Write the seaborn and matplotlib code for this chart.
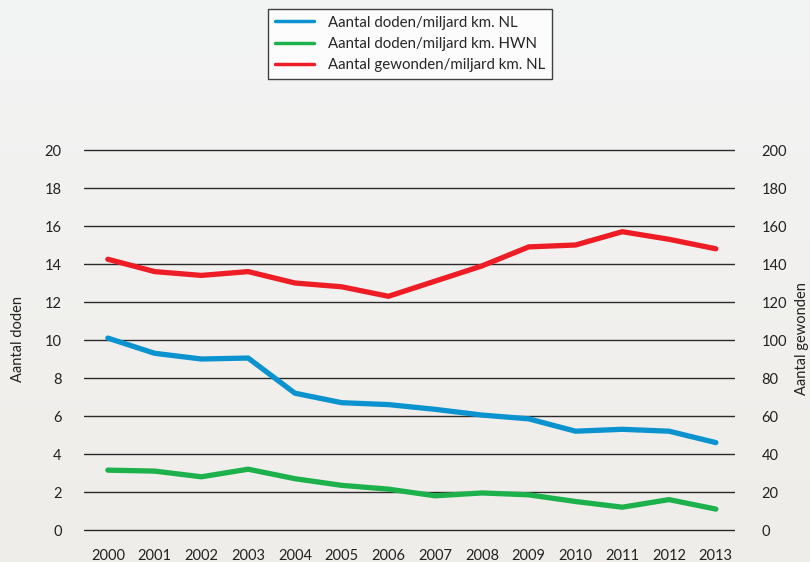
import numpy as np
import pandas as pd
import matplotlib

matplotlib.use("Agg")
import matplotlib.pyplot as plt  # noqa: E402
import seaborn as sns  # noqa: E402

years = list(range(2000, 2014))
doden_nl = [10.1, 9.3, 9.0, 9.05, 7.2, 6.7, 6.6, 6.35, 6.05, 5.85, 5.2, 5.3, 5.2, 4.6]
doden_hwn = [3.15, 3.1, 2.8, 3.2, 2.7, 2.35, 2.15, 1.8, 1.95, 1.85, 1.5, 1.2, 1.6, 1.1]
gewonden_nl = [142.5, 136, 134, 136, 130, 128, 123, 131, 139, 149, 150, 157, 153, 148]

labels = [
    "Aantal doden/miljard km. NL",
    "Aantal doden/miljard km. HWN",
    "Aantal gewonden/miljard km. NL",
]
colors = ["#0a93cf", "#1db14b", "#ee1c25"]

sns.set_style("white")
plt.rcParams["font.family"] = ["Lato", "DejaVu Sans"]

fig = plt.figure(figsize=(8.1, 5.62), dpi=100)

# achtergrond met licht verloop
bg = fig.add_axes([0, 0, 1, 1], zorder=-10)
grad = np.linspace(0, 1, 256).reshape(-1, 1)
cmap = matplotlib.colors.LinearSegmentedColormap.from_list("bg", ["#f3f4f4", "#efede9"])
bg.imshow(grad, aspect="auto", cmap=cmap, extent=[0, 1, 0, 1], origin="upper")
bg.axis("off")

# 19 px per eenheid, 0 op y=530 en 20 op y=150 (plus kleine marge voor gridlijnen)
ax = fig.add_axes([84 / 810, 30.1 / 562, 651 / 810, 383.8 / 562])
ax.patch.set_alpha(0)
ax2 = ax.twinx()

df = pd.DataFrame({"jaar": years, "nl": doden_nl, "hwn": doden_hwn, "gew": gewonden_nl})

sns.lineplot(data=df, x="jaar", y="nl", ax=ax, color=colors[0], lw=3.8,
             legend=False, solid_capstyle="round", zorder=3)
sns.lineplot(data=df, x="jaar", y="hwn", ax=ax, color=colors[1], lw=3.8,
             legend=False, solid_capstyle="round", zorder=3)
sns.lineplot(data=df, x="jaar", y="gew", ax=ax2, color=colors[2], lw=3.8,
             legend=False, solid_capstyle="round", zorder=3)

ax.set_xlim(1999.49, 2013.41)
ax.set_ylim(-0.1, 20.1)
ax2.set_ylim(-1, 201)
ax.set_yticks(range(0, 21, 2))
ax2.set_yticks(range(0, 201, 20))
ax.set_xticks(years)
ax.set_xticklabels([str(y) for y in years])

ax.grid(axis="y", color="#2a2a2a", lw=1.0)
ax.grid(axis="x", visible=False)
for a in (ax, ax2):
    for s in a.spines.values():
        s.set_visible(False)
ax.tick_params(axis="y", length=0, pad=16, labelsize=10.5, colors="#222222")
ax.tick_params(axis="x", length=0, pad=12, labelsize=10.5, colors="#222222")
ax2.tick_params(axis="y", length=0, pad=19, labelsize=10.5, colors="#222222")

ax.set_xlabel("")
ax.set_ylabel("")
ax2.set_ylabel("")
fig.text(18 / 810, 1 - 339 / 562, "Aantal doden", rotation=90, ha="center", va="center",
         fontsize=10.5, color="#222222")
fig.text(802 / 810, 1 - 339 / 562, "Aantal gewonden", rotation=90, ha="center", va="center",
         fontsize=10.5, color="#222222")

handles = [matplotlib.lines.Line2D([], [], color=c, lw=2.5) for c in colors]
leg = fig.legend(handles, labels, loc="center", bbox_to_anchor=(410 / 810, 1 - 44 / 562),
                 frameon=True, fancybox=False, fontsize=10.8, handlelength=2.6,
                 labelspacing=0.5, borderpad=0.45, handletextpad=0.9)
leg.get_frame().set_edgecolor("#111111")
leg.get_frame().set_linewidth(1.0)
leg.get_frame().set_facecolor("white")

fig.savefig("out.png", dpi=100)
